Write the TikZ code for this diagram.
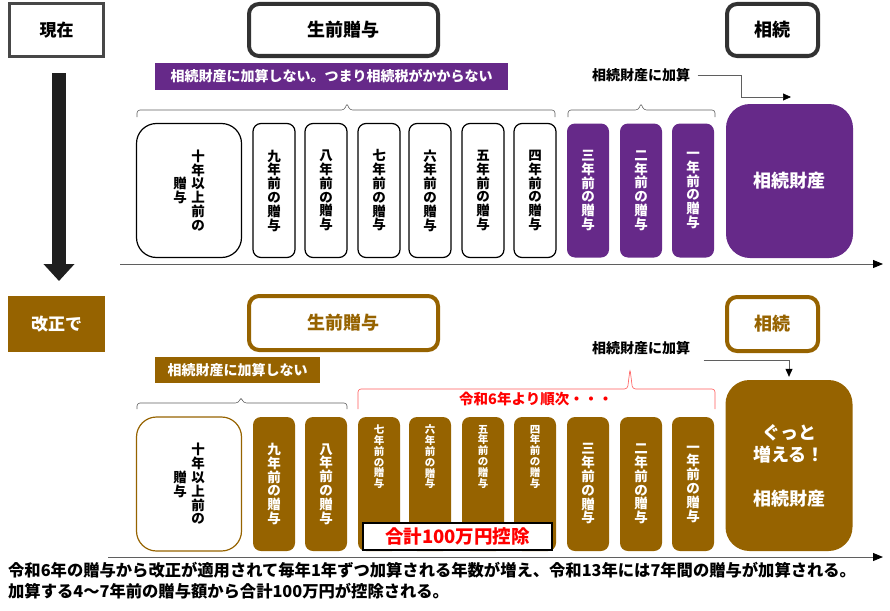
\documentclass[tikz,border=0pt]{standalone}
\usepackage{fontspec}
\setmainfont{Noto Sans CJK JP}
\usetikzlibrary{arrows.meta, positioning, calc}
\definecolor{DeepPurple}{RGB}{102, 41, 137}
\definecolor{GoldBrown}{RGB}{150, 99, 0}
\definecolor{DarkFrame}{RGB}{50, 50, 50}
\definecolor{SignRed}{RGB}{255, 0, 0}
\definecolor{BraceRed}{RGB}{255, 90, 90}
\definecolor{LineGray}{RGB}{95, 95, 95}

% bracket over the year boxes: #2 left x, #3 right x, #4 peak x, #5 base y, #6 height
\newcommand{\yearbracket}[6][LineGray]{%
  \draw[bracket, draw=#1] (#2,#5+#6) -- (#2,#5) -- (#4-2.5,#5) -- (#4,#5-#6) -- (#4+2.5,#5) -- (#3,#5) -- (#3,#5+#6);}

\begin{document}
\begin{tikzpicture}[
    x=1pt, y=-1pt,
    tag/.style={rectangle, draw=DarkFrame!90, line width=2.5pt, minimum width=94pt, minimum height=53pt, font=\fontsize{17}{20}\selectfont\bfseries},
    head/.style={rectangle, rounded corners=10pt, line width=4pt, fill=white, minimum height=52pt, font=\fontsize{18}{21}\selectfont\bfseries},
    banner/.style={rectangle, text=white, minimum height=27pt, inner xsep=8pt, font=\fontsize{14}{16}\selectfont\bfseries},
    note/.style={font=\fontsize{14}{16}\selectfont\bfseries},
    yearbox/.style={rectangle, rounded corners=8pt, minimum width=42pt, minimum height=134pt, inner sep=0pt, align=center, font=\fontsize{13.5}{13.8}\selectfont\bfseries},
    plainyear/.style={draw=black, line width=1.2pt, fill=white},
    purpleyear/.style={fill=DeepPurple, text=white},
    goldyear/.style={fill=GoldBrown, text=white},
    yeartext/.style={inner sep=0pt, align=center, font=\fontsize{13.5}{13.8}\selectfont\bfseries},
    smallyear/.style={inner sep=0pt, align=center, text=white, font=\fontsize{10.5}{10.8}\selectfont\bfseries},
    bigbox/.style={rectangle, rounded corners=24pt, minimum width=127pt, align=center, text=white, font=\fontsize{18}{22}\selectfont\bfseries},
    bracket/.style={line width=0.6pt, rounded corners=3pt},
    conn/.style={-{Triangle[length=8pt, width=7pt, color=black]}, line width=0.7pt, draw=LineGray},
    axis/.style={-{Triangle[length=10pt, width=8pt, color=black]}, line width=1pt, draw=LineGray}
]
    \useasboundingbox (0,0) rectangle (890,610);

    % ===== 現在 =====
    \node[tag, fill=white] (now) at (56.5,30) {現在};
    \node[head, draw=DarkFrame, minimum width=189pt] (gift1) at (343.5,30) {生前贈与};
    \node[head, draw=DarkFrame, minimum width=91pt] (inh1) at (772.5,30) {相続};
    \coordinate (downtop) at (59,73);
    \coordinate (downend) at (59,281);
    \draw[line width=14pt, draw=black!88, -{Triangle[length=17pt, width=30pt]}] (downtop) -- (downend);

    \node[banner, fill=DeepPurple, minimum width=353pt] (nocount1) at (331.5,76.5) {相続財産に加算しない。つまり相続税がかからない};
    \node[note] (add1) at (641,75) {相続財産に加算};

    % 年ごとの贈与
    \foreach \n/\cx/\sty [count=\i] in {九/274/plainyear, 八/326/plainyear, 七/379/plainyear, 六/430/plainyear, 五/483/plainyear, 四/535/plainyear, 三/588/purpleyear, 二/641/purpleyear, 一/693/purpleyear}
        \node[yearbox, \sty] (t\i) at (\cx,190.5) {\n\\年\\前\\の\\贈\\与};
    \node[yearbox, plainyear, minimum width=105pt, rounded corners=20pt] (t10) at (189,190.5) {};
    \node[yeartext] at ([xshift=9pt]t10.center) {十\\年\\以\\上\\前\\の};
    \node[yeartext] at ([xshift=-9pt]t10.center) {贈\\与};
    \node[bigbox, fill=DeepPurple, minimum height=154pt] (estate1) at (789.5,181) {相続財産};

    \yearbracket{137}{555}{347}{110}{7}
    \yearbracket{568}{715}{641}{110}{7}
    \coordinate (tip1) at (791,97);
    \draw[conn] ([xshift=4pt]add1.east) -- ++(44,0) |- (tip1);
    \coordinate (axis1a) at (120,264);
    \coordinate (axis1b) at (883,264);
    \draw[axis] (axis1a) -- (axis1b);

    % ===== 改正で =====
    \node[tag, fill=GoldBrown, draw=GoldBrown, text=white] (reform) at (56.5,324) {改正で};
    \node[head, draw=GoldBrown, text=GoldBrown, minimum width=189pt, minimum height=54pt] (gift2) at (343.5,323) {生前贈与};
    \node[head, draw=GoldBrown, text=GoldBrown, minimum width=91pt, minimum height=54pt] (inh2) at (772.5,324) {相続};

    \node[banner, fill=GoldBrown, minimum width=165pt, minimum height=26pt] (nocount2) at (237.5,370) {相続財産に加算しない};
    \node[note] (add2) at (641,348) {相続財産に加算};

    \foreach \n/\cx/\nm in {九/274/b9, 八/326/b8, 三/588/b3, 二/641/b2, 一/693/b1}
        \node[yearbox, goldyear] (\nm) at (\cx,484) {\n\\年\\前\\の\\贈\\与};
    \foreach \n/\cx/\nm in {七/379/b7, 六/430/b6, 五/483/b5, 四/535/b4}{
        \node[yearbox, goldyear] (\nm) at (\cx,484) {};
        \node[smallyear, below=8pt of \nm.north] {\n\\年\\前\\の\\贈\\与};
    }
    \node[yearbox, draw=GoldBrown, line width=1.2pt, fill=white, minimum width=105pt, rounded corners=20pt] (b10) at (189,484) {};
    \node[yeartext] at ([xshift=9pt]b10.center) {十\\年\\以\\上\\前\\の};
    \node[yeartext] at ([xshift=-9pt]b10.center) {贈\\与};
    \node[bigbox, fill=GoldBrown, minimum height=171pt] (estate2) at (789,465.5) {ぐっと\\増える！\\[22pt]相続財産};

    \node[rectangle, draw=black, line width=1.3pt, fill=white, minimum width=189pt, minimum height=27pt, inner sep=0pt, text=SignRed, font=\fontsize{18.5}{20}\selectfont\bfseries] (deduct) at (457.5,536.5) {合計100万円控除};

    \yearbracket{137}{347}{241}{403}{6}
    \yearbracket[BraceRed]{358}{715}{630}{389}{20}
    \node[text=SignRed, font=\fontsize{14.5}{16}\selectfont\bfseries] (phase) at (536,399) {令和6年より順次・・・};
    \draw[conn] ([xshift=10pt, yshift=-12pt]add2.east) -| ([yshift=3pt]estate2.north);
    \coordinate (axis2a) at (108,557);
    \coordinate (axis2b) at (883,557);
    \draw[axis] (axis2a) -- (axis2b);

    % 説明文
    \node[anchor=north west, inner sep=0pt, align=left, font=\fontsize{16.3}{21}\selectfont\bfseries] (expl) at (8,562) {令和6年の贈与から改正が適用されて毎年1年ずつ加算される年数が増え、令和13年には7年間の贈与が加算される。\\加算する4〜7年前の贈与額から合計100万円が控除される。};
\end{tikzpicture}
\end{document}
